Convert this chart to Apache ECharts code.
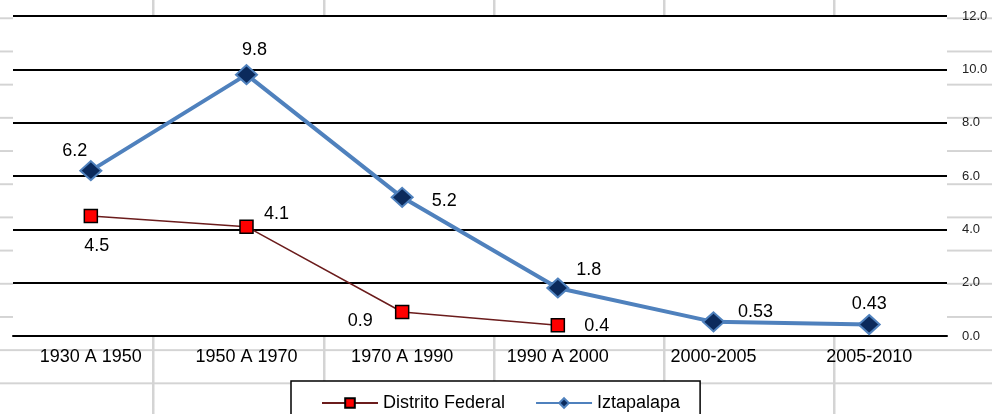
<!doctype html>
<html>
<head>
    <meta charset="utf-8">
    <title>Tasa de crecimiento</title>
    <script src="https://cdn.jsdelivr.net/npm/echarts@6/dist/echarts.min.js"></script>
    <style>
        body { margin: 0; padding: 0; background: #fff; }
        /* hoja de calculo detras del grafico */
        #tb {
            width: 992px;
            height: 414px;
            background-image:
                linear-gradient(#d4d4d4, #d4d4d4),
                linear-gradient(#d4d4d4, #d4d4d4),
                linear-gradient(#d4d4d4, #d4d4d4),
                linear-gradient(#d4d4d4, #d4d4d4),
                linear-gradient(#d4d4d4, #d4d4d4),
                linear-gradient(to bottom, #d4d4d4 0, #d4d4d4 2px, transparent 2px);
            background-size: 2.5px 100%, 2.5px 100%, 2.5px 100%, 2.5px 100%, 2.5px 100%, 100% 33.2px;
            background-position: 152px 0, 323px 0, 493px 0, 663px 0, 833px 0, 0 17.3px;
            background-repeat: no-repeat, no-repeat, no-repeat, no-repeat, no-repeat, repeat;
        }
    </style>
</head>
<body>
    <div id="tb"></div>
    <script>
        var categorias = ['1930 A 1950', '1950 A 1970', '1970 A 1990', '1990 A 2000', '2000-2005', '2005-2010'];
        var distritoFederal = [4.5, 4.1, 0.9, 0.4, null, null];
        var iztapalapa = [6.2, 9.8, 5.2, 1.8, 0.53, 0.43];
        var yTicks = [0, 2, 4, 6, 8, 10, 12];

        // desplazamiento de cada etiqueta respecto al punto
        var dfOffsets = [[6, 30], [30, -13], [-42, 9], [39, 1]];
        var izOffsets = [[-16, -20], [8, -25], [42, 4], [31, -18], [42, -10], [0, -21]];

        var fuente = 'Liberation Sans, Arial, sans-serif';

        function conEtiquetas(valores, offsets) {
            return valores.map(function (v, i) {
                if (v === null) return null;
                return {
                    value: v,
                    label: { offset: offsets[i] }
                };
            });
        }

        var chart = echarts.init(document.getElementById('tb'));
        chart.setOption({
            animation: false,
            grid: {
                show: true,
                left: 13,
                right: 45,
                top: 16,
                bottom: 78,
                backgroundColor: '#ffffff',
                borderWidth: 0
            },
            legend: {
                left: 291,
                top: 381,
                width: 430,
                padding: [13, 20, 14, 30],
                backgroundColor: '#ffffff',
                borderColor: '#000000',
                borderWidth: 1.5,
                itemWidth: 56,
                itemHeight: 12,
                itemGap: 30,
                textStyle: { fontSize: 18, color: '#000', fontFamily: fuente },
                data: ['Distrito Federal', 'Iztapalapa']
            },
            xAxis: {
                type: 'category',
                data: categorias,
                boundaryGap: true,
                axisLine: { lineStyle: { color: '#000', width: 2 } },
                axisTick: { show: false },
                axisLabel: { fontSize: 18, color: '#000', fontFamily: fuente, margin: 12 }
            },
            yAxis: {
                type: 'value',
                position: 'right',
                min: yTicks[0],
                max: yTicks[yTicks.length - 1],
                interval: 2,
                axisLine: { show: false },
                axisTick: { show: false },
                axisLabel: {
                    fontSize: 13,
                    color: '#222',
                    fontFamily: fuente,
                    margin: 15,
                    formatter: function (v) { return v.toFixed(1); }
                },
                splitLine: { lineStyle: { color: '#000', width: 2 } }
            },
            series: [{
                name: 'Distrito Federal',
                type: 'line',
                data: conEtiquetas(distritoFederal, dfOffsets),
                symbol: 'rect',
                symbolSize: 13,
                lineStyle: { color: '#6b1c1c', width: 1.5 },
                itemStyle: { color: '#ff0000', borderColor: '#000', borderWidth: 1.5 },
                label: {
                    show: true,
                    position: 'inside',
                    fontSize: 18,
                    color: '#000',
                    fontFamily: fuente
                },
                z: 3
            }, {
                name: 'Iztapalapa',
                type: 'line',
                data: conEtiquetas(iztapalapa, izOffsets),
                symbol: 'diamond',
                symbolSize: [21, 19],
                lineStyle: { color: '#4f81bd', width: 4 },
                itemStyle: { color: '#0b2a5c', borderColor: '#4f81bd', borderWidth: 2 },
                label: {
                    show: true,
                    position: 'inside',
                    fontSize: 18,
                    color: '#000',
                    fontFamily: fuente
                },
                z: 4
            }]
        });
    </script>
</body>
</html>
